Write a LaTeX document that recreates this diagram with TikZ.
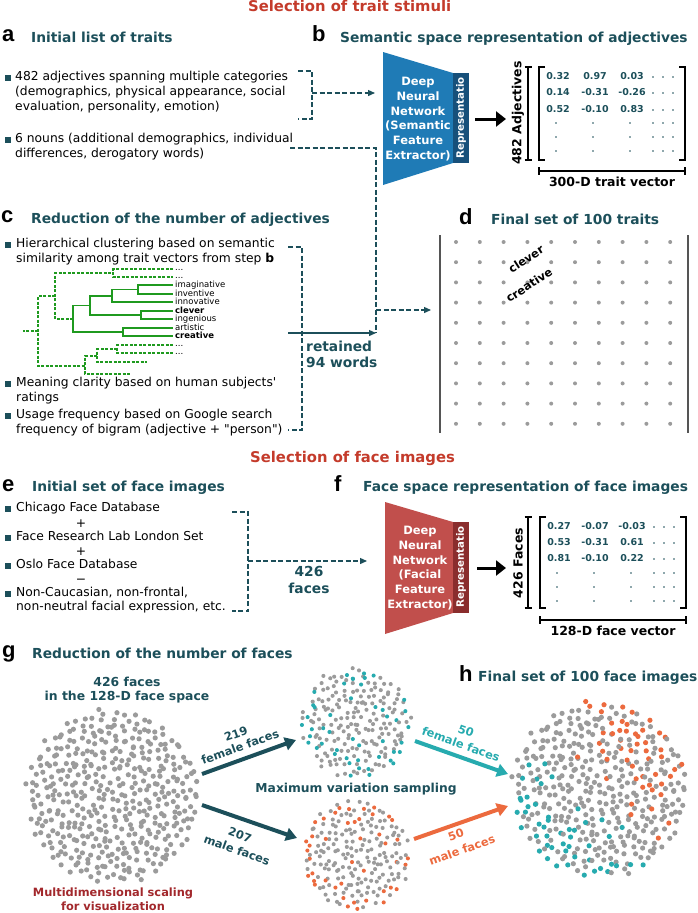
\documentclass[tikz,border=0pt]{standalone}
\usepackage{fontspec}
\setmainfont{DejaVu Sans}
\newfontfamily\qfont{DejaVu Sans}
\newfontfamily\letterfont{Liberation Sans}
\usetikzlibrary{arrows.meta,calc}
\definecolor{titlered}{HTML}{C43B2B}
\definecolor{tealc}{HTML}{1C4F5A}
\definecolor{dnnblue}{HTML}{1F7BB6}
\definecolor{barblue}{HTML}{17507A}
\definecolor{dnnred}{HTML}{C14F4C}
\definecolor{barred}{HTML}{8A2D2D}
\definecolor{dendro}{HTML}{1F9A1F}
\definecolor{dotgray}{HTML}{9B9B9B}
\definecolor{cyanc}{HTML}{27ABAF}
\definecolor{orangec}{HTML}{EC6A3E}
\definecolor{mdsred}{HTML}{A2282C}
\definecolor{linegray}{HTML}{555555}

\newcommand\mybul[2]{\fill[tealc] ({#1-3},{#2-3}) rectangle ({#1+3},{#2+3});}
\newcommand\drawcloud[8]{%
 \pgfmathsetseed{#7}%
 \foreach \i in {1,...,#4}{%
  \pgfmathsetmacro\myrr{#3*sqrt((\i-0.5)/#4)}%
  \pgfmathsetmacro\myth{360*mod(\i*0.381966,1)}%
  \pgfmathsetmacro\mypx{#1+\myrr*cos(\myth)+#6*rand}%
  \pgfmathsetmacro\mypy{#2+\myrr*sin(\myth)+#6*rand}%
  \pgfmathsetmacro\myu{rnd}%
  \pgfmathsetmacro\mysc{((#1-\mypx)+(\mypy-#2))/(1.414*#3)}%
  \pgfmathtruncatemacro\mycc{#8}%
  \ifcase\mycc\def\dotc{dotgray}\or\def\dotc{cyanc}\else\def\dotc{orangec}\fi
  \fill[\dotc] (\mypx,\mypy) circle[radius=#5pt];
 }}

\begin{document}
\begin{tikzpicture}[x=1pt,y=-1pt,
  body/.style={inner sep=0pt, anchor=mid west, font=\fontsize{12.3}{15}\selectfont},
  head/.style={inner sep=0pt, anchor=mid west, text=tealc, font=\fontsize{13.8}{16}\selectfont\bfseries},
  plet/.style={inner sep=0pt, anchor=mid west, font=\letterfont\fontsize{22}{24}\selectfont\bfseries},
  ttl/.style={inner sep=0pt, anchor=mid west, text=titlered, font=\fontsize{14.8}{17}\selectfont\bfseries},
  dln/.style={draw=tealc, line width=1.3pt, dash pattern=on 5pt off 2.5pt},
  darr/.style={dln, -{Triangle[length=7pt,width=6pt]}},
  sarr/.style={draw=tealc, line width=1.3pt, -{Triangle[length=7pt,width=6pt]}},
  mat/.style={inner sep=0pt, anchor=mid, text=tealc, font=\fontsize{9.5}{10}\selectfont\bfseries},
  leaf/.style={inner sep=0pt, anchor=mid west, font=\fontsize{8.5}{8.5}\selectfont},
  dnn/.style={inner sep=0pt, text=white, align=center, font=\fontsize{11.5}{14.8}\selectfont\bfseries},
  rep/.style={inner sep=0pt, text=white, rotate=90, font=\fontsize{10.2}{11}\selectfont\bfseries},
  blk/.style={inner sep=0pt, font=\fontsize{12.5}{14}\selectfont\bfseries},
  lab/.style={inner sep=0pt, font=\fontsize{11.4}{13}\selectfont\bfseries},
  bigarr/.style={line width=4pt, -{Triangle[length=11pt,width=13pt]}},
  blkarr/.style={line width=3pt, -{Triangle[length=10pt,width=15pt]}},
  dg/.style={draw=dendro, line width=1.3pt},
  dgd/.style={dg, dash pattern=on 3pt off 1.5pt},
  mline/.style={draw=black, line width=1.3pt},
  mdot/.style={fill=tealc}
]
\useasboundingbox (0,0) rectangle (697,913);

% ---------- Title 1
\node[ttl] (t1) at (248,9) {Selection of trait stimuli};

% ---------- a
\node[plet] (la) at (2,39) {a};
\node[head] (ha) at (31,40) {Initial list of traits};
\mybul{7.5}{77.5}
\node[body] (a1) at (15,78) {482 adjectives spanning multiple categories};
\node[body] (a2) at (15,93) {(demographics, physical appearance, social};
\node[body] (a3) at (15,108) {evaluation, personality, emotion)};
\mybul{7.5}{139.5}
\node[body] (a4) at (15,140) {6 nouns (additional demographics, individual};
\node[body] (a5) at (15,155) {differences, derogatory words)};

% ---------- b
\node[plet] (lb) at (312,39) {b};
\node[head] (hb) at (340,40) {Semantic space representation of adjectives};
\fill[dnnblue] (383,52) -- (453,73) -- (453,163) -- (383,185) -- cycle;
\fill[barblue] (453,73) rectangle (469,163);
\node[dnn] (dnnb) at (418,119) {Deep\\Neural\\Network\\(Semantic\\Feature\\Extractor)};
\node[rep] (repb) at (461,118) {Representatio};
\coordinate (dnnbin) at (375,93);
\coordinate (dnnbout) at (475,119);
\coordinate (matbin) at (506,119);
\draw[blkarr] (dnnbout) -- (matbin);
\node[blk, rotate=90] (adj) at (518,113) {482 Adjectives};
\draw[mline] (528,67) -- (528,160) (524.5,67) -- (531.5,67) (524.5,160) -- (531.5,160);
\draw[mline] (545,67) -- (539,67) -- (539,160) -- (545,160);
\draw[mline] (679,67) -- (685,67) -- (685,160) -- (679,160);
\draw[mline] (539,171) -- (685,171) (539,167) -- (539,175) (685,167) -- (685,175);
\node[blk] (vecb) at (612,182) {300-D trait vector};
\node[mat] (b11) at (558,77) {0.32}; \node[mat] (b12) at (595,77) {0.97}; \node[mat] (b13) at (632,77) {0.03};
\node[mat] (b21) at (558,93) {0.14}; \node[mat] (b22) at (595,93) {-0.31}; \node[mat] (b23) at (632,93) {-0.26};
\node[mat] (b31) at (558,110) {0.52}; \node[mat] (b32) at (595,110) {-0.10}; \node[mat] (b33) at (632,110) {0.83};
\foreach \yy in {77,93,110,123,137,151} \foreach \xx in {653,663,673} \fill[mdot] (\xx,\yy) circle[radius=0.9pt];
\foreach \yy in {123,137,151} \foreach \xx in {556,593,630} \fill[mdot] (\xx,\yy) circle[radius=0.9pt];

% connectors a -> b, a -> d
\coordinate (ba1) at (298,71); \coordinate (ba2) at (312,71);
\coordinate (ba3) at (312,119); \coordinate (ba4) at (298,119);
\coordinate (bam) at (312,93);
\draw[dln] (ba1) -- (ba2) -- (ba3) -- (ba4);
\draw[darr] (bam) -- (dnnbin);
\coordinate (na1) at (290,148); \coordinate (na2) at (376,148); \coordinate (na3) at (376,333);
\draw[dln] (na1) -- (na2) -- (na3);

% ---------- c
\node[plet] (lc) at (1,220) {c};
\node[head] (hc) at (31,221) {Reduction of the number of adjectives};
\mybul{7.5}{244.5}
\node[body] (c1) at (16,245) {Hierarchical clustering based on semantic};
\node[body] (c2) at (16,260) {similarity among trait vectors from step \textbf{b}};
\mybul{7.5}{383.5}
\node[body] (c3) at (16,384) {Meaning clarity based on human subjects{\qfont'}};
\node[body] (c4) at (16,399) {ratings};
\mybul{7.5}{415.5}
\node[body] (c5) at (16,416) {Usage frequency based on Google search};
\node[body] (c6) at (16,431) {frequency of bigram (adjective + {\qfont"}person{\qfont"})};

% dendrogram
\draw[dg] (173,285) -- (138,285) -- (138,294) -- (173,294);
\draw[dg] (173,302) -- (112,302) -- (112,289.5) -- (138,289.5);
\draw[dg] (173,311) -- (141,311) -- (141,319) -- (173,319);
\draw[dg] (141,315) -- (90,315) -- (90,296) -- (112,296);
\draw[dg] (173,328) -- (123,328) -- (123,336) -- (173,336);
\draw[dg] (123,332) -- (73,332) -- (73,305.5) -- (90,305.5);
\draw[dgd] (73,319) -- (55,319) -- (55,273) -- (113,273);
\draw[dgd] (173,269) -- (113,269) -- (113,277) -- (173,277);
\draw[dgd] (55,296) -- (38,296) -- (38,366) -- (85,366);
\draw[dgd] (38,331) -- (23,331);
\draw[dgd] (173,345) -- (117,345) -- (117,353) -- (173,353);
\draw[dgd] (117,349) -- (97,349) -- (97,362) -- (147,362);
\draw[dgd] (97,356) -- (85,356) -- (85,374) -- (130,374);
\node[leaf] (l1) at (175,268) {...};
\node[leaf] (l2) at (175,276) {...};
\node[leaf] (l3) at (175,285) {imaginative};
\node[leaf] (l4) at (175,294) {inventive};
\node[leaf] (l5) at (175,302) {innovative};
\node[leaf] (l6) at (175,311) {\textbf{clever}};
\node[leaf] (l7) at (175,319) {ingenious};
\node[leaf] (l8) at (175,328) {artistic};
\node[leaf] (l9) at (175,336) {\textbf{creative}};
\node[leaf] (l10) at (175,344) {...};
\node[leaf] (l11) at (175,352) {...};

% c connectors
\coordinate (bc1) at (288,247); \coordinate (bc2) at (302,247);
\coordinate (bc3) at (302,430); \coordinate (bc4) at (288,430);
\draw[dln] (bc1) -- (bc2) -- (bc3) -- (bc4);
\coordinate (rs) at (288,333);
\draw[sarr] (rs) -- (na3);
\node[head] (ret1) at (306,349) {retained};
\node[head] (ret2) at (306,365) {94 words};
\coordinate (nd0) at (376,310); \coordinate (ndin) at (431,310);
\draw[darr] (nd0) -- (ndin);

% ---------- d
\node[plet] (ld) at (459,222) {d};
\node[head] (hd) at (491,222) {Final set of 100 traits};
\draw[linegray, line width=1.3pt] (440,235) -- (440,433);
\draw[linegray, line width=1.3pt] (688,235) -- (688,433);
\foreach \cc in {0,...,9} \foreach \rr in {0,...,9}
  \fill[dotgray] ({456+23.8*\cc},{242+20.2*\rr}) circle[radius=2pt];
\node[lab, rotate=33] (clv) at (526,259) {clever};
\node[lab, rotate=33] (crt) at (529,285) {creative};

% ---------- Title 2
\node[ttl] (t2) at (250,460) {Selection of face images};

% ---------- e
\node[plet] (le) at (2,489) {e};
\node[head] (he) at (32,489) {Initial set of face images};
\mybul{7.5}{508.5}
\node[body] (e1) at (16,509) {Chicago Face Database};
\node[body, anchor=mid] (ep1) at (81,525) {+};
\mybul{7.5}{537.5}
\node[body] (e2) at (16,538) {Face Research Lab London Set};
\node[body, anchor=mid] (ep2) at (81,553) {+};
\mybul{7.5}{565.5}
\node[body] (e3) at (16,566) {Oslo Face Database};
\node[body, anchor=mid] (ep3) at (81,581) {−};
\mybul{7.5}{593.5}
\node[body] (e4) at (16,594) {Non-Caucasian, non-frontal,};
\node[body] (e5) at (16,608) {non-neutral facial expression, etc.};
\coordinate (be1) at (232,512); \coordinate (be2) at (248,512);
\coordinate (be3) at (248,611); \coordinate (be4) at (232,611);
\coordinate (bem) at (248,561); \coordinate (dnnfin) at (367,561);
\draw[dln] (be1) -- (be2) -- (be3) -- (be4);
\draw[darr] (bem) -- (dnnfin);
\node[head, anchor=mid] (f426) at (309,574) {426};
\node[head, anchor=mid] (ffac) at (309,591) {faces};

% ---------- f
\node[plet] (lf) at (334,489) {f};
\node[head] (hf) at (363,489) {Face space representation of face images};
\fill[dnnred] (385,502) -- (453,522) -- (453,613) -- (385,634) -- cycle;
\fill[barred] (453,522) rectangle (469,613);
\node[dnn] (dnnf) at (420,568) {Deep\\Neural\\Network\\(Facial\\Feature\\Extractor)};
\node[rep] (repf) at (461,567) {Representatio};
\coordinate (dnnfout) at (477,568); \coordinate (matfin) at (506,568);
\draw[blkarr] (dnnfout) -- (matfin);
\node[blk, rotate=90] (fcs) at (518,563) {426 Faces};
\draw[mline] (528,517) -- (528,608) (524.5,517) -- (531.5,517) (524.5,608) -- (531.5,608);
\draw[mline] (546,517) -- (540,517) -- (540,608) -- (546,608);
\draw[mline] (680,517) -- (686,517) -- (686,608) -- (680,608);
\draw[mline] (540,620) -- (686,620) (540,616) -- (540,624) (686,616) -- (686,624);
\node[blk] (vecf) at (613,631) {128-D face vector};
\node[mat] (f11) at (559,527) {0.27}; \node[mat] (f12) at (595,527) {-0.07}; \node[mat] (f13) at (632,527) {-0.03};
\node[mat] (f21) at (559,543) {0.53}; \node[mat] (f22) at (595,543) {-0.31}; \node[mat] (f23) at (632,543) {0.61};
\node[mat] (f31) at (559,559) {0.81}; \node[mat] (f32) at (595,559) {-0.10}; \node[mat] (f33) at (632,559) {0.22};
\foreach \yy in {527,543,559,573,587,601} \foreach \xx in {654,664,674} \fill[mdot] (\xx,\yy) circle[radius=0.9pt];
\foreach \yy in {573,587,601} \foreach \xx in {557,594,631} \fill[mdot] (\xx,\yy) circle[radius=0.9pt];

% ---------- g
\node[plet] (lg) at (2,655) {g};
\node[head] (hg) at (32,656) {Reduction of the number of faces};
\node[blk, text=tealc, font=\fontsize{12.4}{14}\selectfont\bfseries] (g1) at (127,682) {426 faces};
\node[blk, text=tealc, font=\fontsize{12.4}{14}\selectfont\bfseries] (g2) at (127,697) {in the 128-D face space};
\drawcloud{113}{797}{86}{426}{2.6}{3.2}{11}{0}
\node[lab, text=mdsred] (m1) at (113,893) {Multidimensional scaling};
\node[lab, text=mdsred] (m2) at (113,906) {for visualization};

\coordinate (gfs) at (202,774); \coordinate (gfe) at (296,740);
\coordinate (gms) at (202,805); \coordinate (gme) at (297,838);
\draw[tealc, bigarr] (gfs) -- (gfe);
\draw[tealc, bigarr] (gms) -- (gme);
\node[lab, text=tealc, rotate=20] (n219) at (236,734) {219};
\node[lab, text=tealc, rotate=20] (ff219) at (240,747) {female faces};
\node[lab, text=tealc, rotate=-20] (n207) at (240,835) {207};
\node[lab, text=tealc, rotate=-20] (mf207) at (237,850) {male faces};

\drawcloud{356}{723}{55}{219}{2.05}{3.0}{5}{(\myu<0.05+0.35*\i/219)}
\drawcloud{356}{855}{54}{207}{2.05}{3.0}{9}{2*(\myu<0.05+0.35*\i/207)}
\node[blk, text=tealc, font=\fontsize{12.3}{14}\selectfont\bfseries] (mvs) at (356,789) {Maximum variation sampling};

\coordinate (hfs) at (415,741); \coordinate (hfe) at (508,774);
\coordinate (hms) at (414,839); \coordinate (hme) at (508,806);
\draw[cyanc, bigarr] (hfs) -- (hfe);
\draw[orangec, bigarr] (hms) -- (hme);
\node[lab, text=cyanc, rotate=-20] (n50a) at (466,731) {50};
\node[lab, text=cyanc, rotate=-20] (ff50) at (461,744) {female faces};
\node[lab, text=orangec, rotate=20] (n50b) at (456,835) {50};
\node[lab, text=orangec, rotate=20] (mf50) at (462,850) {male faces};

% ---------- h
\node[plet] (lh) at (459,679) {h};
\node[head] (hh) at (478,679) {Final set of 100 face images};
\drawcloud{600}{790}{87}{426}{2.6}{3.2}{11}{(\myu<0.55*\mysc)+2*(\myu<-0.55*\mysc)}
\end{tikzpicture}
\end{document}
